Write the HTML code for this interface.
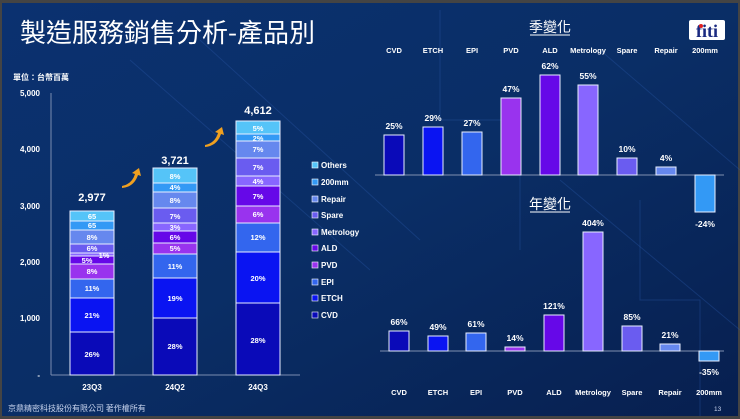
<!DOCTYPE html>
<html><head><meta charset="utf-8"><style>
body{margin:0;width:740px;height:419px;overflow:hidden;background:#3a3a3a}
svg{display:block;font-family:"Liberation Sans","Noto Sans CJK TC",sans-serif}
</style></head><body>
<svg width="740" height="419" viewBox="0 0 740 419">
<defs>
<linearGradient id="bg" x1="0" y1="0" x2="1" y2="1">
<stop offset="0" stop-color="#0b3170"/><stop offset="0.5" stop-color="#0a2e66"/><stop offset="1" stop-color="#071f4f"/>
</linearGradient>
</defs>
<rect x="0" y="0" width="740" height="419" fill="#444"/>
<rect x="2" y="3" width="736" height="413" fill="url(#bg)"/>
<g stroke="#2a5aa8" stroke-opacity="0.35" stroke-width="1" fill="none">
<line x1="130" y1="60" x2="370" y2="270"/><line x1="200" y1="40" x2="420" y2="240"/>
<line x1="560" y1="180" x2="740" y2="330"/><line x1="600" y1="50" x2="740" y2="170"/>
<path d="M440 10 V120 H520 V250"/><path d="M640 200 V300 H700 V416"/>
</g>
<text x="20" y="42" fill="#fff" font-size="26" font-family="'Noto Sans CJK TC',sans-serif">製造服務銷售分析-產品別</text>
<text x="13" y="80" fill="#fff" font-size="8" font-weight="bold" font-family="'Noto Sans CJK TC',sans-serif">單位：台幣百萬</text>
<g fill="#fff" font-size="8" font-weight="bold" text-anchor="end">
<text x="40" y="96">5,000</text><text x="40" y="152">4,000</text><text x="40" y="209">3,000</text><text x="40" y="265">2,000</text><text x="40" y="321">1,000</text><text x="40" y="378">-</text>
</g>
<line x1="51" y1="93" x2="51" y2="375" stroke="#7a8cb0"/>
<line x1="51" y1="375" x2="300" y2="375" stroke="#7a8cb0"/>
<g stroke="#e8eeff" stroke-width="1">
<!-- 23Q3 -->
<rect x="70" y="332" width="44" height="43" fill="#0a0ab8"/>
<rect x="70" y="298" width="44" height="34" fill="#0a14f2"/>
<rect x="70" y="279" width="44" height="19" fill="#3366ee"/>
<rect x="70" y="264" width="44" height="15" fill="#9933ee"/>
<rect x="70" y="256" width="44" height="8" fill="#6608e8"/>
<rect x="70" y="253" width="44" height="3" fill="#8866ff"/>
<rect x="70" y="244" width="44" height="9" fill="#6a5cf0"/>
<rect x="70" y="230" width="44" height="14" fill="#6688ee"/>
<rect x="70" y="221" width="44" height="9" fill="#3399f5"/>
<rect x="70" y="211" width="44" height="10" fill="#55c4f8"/>
<!-- 24Q2 -->
<rect x="153" y="318" width="44" height="57" fill="#0a0ab8"/>
<rect x="153" y="278" width="44" height="40" fill="#0a14f2"/>
<rect x="153" y="254" width="44" height="24" fill="#3366ee"/>
<rect x="153" y="243" width="44" height="11" fill="#9933ee"/>
<rect x="153" y="231" width="44" height="12" fill="#6608e8"/>
<rect x="153" y="223" width="44" height="8" fill="#8866ff"/>
<rect x="153" y="208" width="44" height="15" fill="#6a5cf0"/>
<rect x="153" y="192" width="44" height="16" fill="#6688ee"/>
<rect x="153" y="183" width="44" height="9" fill="#3399f5"/>
<rect x="153" y="168" width="44" height="15" fill="#55c4f8"/>
<!-- 24Q3 -->
<rect x="236" y="303" width="44" height="72" fill="#0a0ab8"/>
<rect x="236" y="252" width="44" height="51" fill="#0a14f2"/>
<rect x="236" y="223" width="44" height="29" fill="#3366ee"/>
<rect x="236" y="206" width="44" height="17" fill="#9933ee"/>
<rect x="236" y="186" width="44" height="20" fill="#6608e8"/>
<rect x="236" y="176" width="44" height="10" fill="#8866ff"/>
<rect x="236" y="158" width="44" height="18" fill="#6a5cf0"/>
<rect x="236" y="141" width="44" height="17" fill="#6688ee"/>
<rect x="236" y="134" width="44" height="7" fill="#3399f5"/>
<rect x="236" y="121" width="44" height="13" fill="#55c4f8"/>
</g>
<g fill="#fff" font-size="7.5" font-weight="bold" text-anchor="middle">
<text x="92" y="357">26%</text><text x="92" y="318">21%</text><text x="92" y="291">11%</text><text x="92" y="274">8%</text><text x="87" y="263">5%</text><text x="104" y="258">1%</text><text x="92" y="251">6%</text><text x="92" y="240">8%</text><text x="92" y="228">65</text><text x="92" y="219">65</text>
<text x="175" y="349">28%</text><text x="175" y="301">19%</text><text x="175" y="269">11%</text><text x="175" y="251">5%</text><text x="175" y="240">6%</text><text x="175" y="230">3%</text><text x="175" y="219">7%</text><text x="175" y="203">8%</text><text x="175" y="190">4%</text><text x="175" y="179">8%</text>
<text x="258" y="343">28%</text><text x="258" y="281">20%</text><text x="258" y="240">12%</text><text x="258" y="217">6%</text><text x="258" y="199">7%</text><text x="258" y="184">4%</text><text x="258" y="170">7%</text><text x="258" y="152">7%</text><text x="258" y="141">2%</text><text x="258" y="131">5%</text>
</g>
<g fill="#fff" font-size="11" font-weight="bold" text-anchor="middle">
<text x="92" y="201">2,977</text><text x="175" y="164">3,721</text><text x="258" y="114">4,612</text>
</g>
<g fill="#fff" font-size="8" font-weight="bold" text-anchor="middle">
<text x="92" y="390">23Q3</text><text x="175" y="390">24Q2</text><text x="258" y="390">24Q3</text>
</g>
<g fill="#f0a020"><path d="M122 186 q10 -2 13 -12 l-3 -1 l7 -5 l2 8 l-3 -1 q-4 12 -16 13z"/><path d="M205 145 q10 -2 13 -12 l-3 -1 l7 -5 l2 8 l-3 -1 q-4 12 -16 13z"/></g>
<g font-size="8" font-weight="bold" fill="#fff">
<rect x="312" y="162" width="6" height="6" fill="#55c4f8" stroke="#fff" stroke-width="0.6"/><text x="321" y="168">Others</text>
<rect x="312" y="179" width="6" height="6" fill="#3399f5" stroke="#fff" stroke-width="0.6"/><text x="321" y="185">200mm</text>
<rect x="312" y="196" width="6" height="6" fill="#6688ee" stroke="#fff" stroke-width="0.6"/><text x="321" y="202">Repair</text>
<rect x="312" y="212" width="6" height="6" fill="#6a5cf0" stroke="#fff" stroke-width="0.6"/><text x="321" y="218">Spare</text>
<rect x="312" y="229" width="6" height="6" fill="#8866ff" stroke="#fff" stroke-width="0.6"/><text x="321" y="235">Metrology</text>
<rect x="312" y="245" width="6" height="6" fill="#6608e8" stroke="#fff" stroke-width="0.6"/><text x="321" y="251">ALD</text>
<rect x="312" y="262" width="6" height="6" fill="#9933ee" stroke="#fff" stroke-width="0.6"/><text x="321" y="268">PVD</text>
<rect x="312" y="279" width="6" height="6" fill="#3366ee" stroke="#fff" stroke-width="0.6"/><text x="321" y="285">EPI</text>
<rect x="312" y="295" width="6" height="6" fill="#0a14f2" stroke="#fff" stroke-width="0.6"/><text x="321" y="301">ETCH</text>
<rect x="312" y="312" width="6" height="6" fill="#0a0ab8" stroke="#fff" stroke-width="0.6"/><text x="321" y="318">CVD</text>
</g>
<!-- right titles -->
<g fill="#fff" font-size="14" text-anchor="middle" font-family="'Noto Sans CJK TC',sans-serif">
<text x="550" y="32">季變化</text><text x="550" y="209">年變化</text>
</g>
<line x1="530" y1="35" x2="570" y2="35" stroke="#fff"/><line x1="530" y1="212" x2="570" y2="212" stroke="#fff"/>
<!-- logo -->
<rect x="689" y="20" width="36" height="20" rx="2" fill="#fff"/>
<text x="707" y="37" text-anchor="middle" font-size="18" font-weight="bold" fill="#1a2a80" font-family="'Liberation Serif',serif">fiti</text>
<circle x="0" cx="701" cy="26" r="2" fill="#e02020"/>
<!-- top chart -->
<g fill="#fff" font-size="7.5" font-weight="bold" text-anchor="middle">
<text x="394" y="53">CVD</text><text x="433" y="53">ETCH</text><text x="472" y="53">EPI</text><text x="511" y="53">PVD</text><text x="550" y="53">ALD</text><text x="588" y="53">Metrology</text><text x="627" y="53">Spare</text><text x="666" y="53">Repair</text><text x="705" y="53">200mm</text>
</g>
<line x1="375" y1="175" x2="724" y2="175" stroke="#8090b0"/>
<g stroke="#e8eeff" stroke-width="1">
<rect x="384" y="135" width="20" height="40" fill="#0a0ab8"/>
<rect x="423" y="127" width="20" height="48" fill="#0a14f2"/>
<rect x="462" y="132" width="20" height="43" fill="#3366ee"/>
<rect x="501" y="98" width="20" height="77" fill="#9933ee"/>
<rect x="540" y="75" width="20" height="100" fill="#6608e8"/>
<rect x="578" y="85" width="20" height="90" fill="#8866ff"/>
<rect x="617" y="158" width="20" height="17" fill="#6a5cf0"/>
<rect x="656" y="167" width="20" height="8" fill="#6688ee"/>
<rect x="695" y="175" width="20" height="37" fill="#3399f5"/>
</g>
<g fill="#fff" font-size="8.5" font-weight="bold" text-anchor="middle">
<text x="394" y="129">25%</text><text x="433" y="121">29%</text><text x="472" y="126">27%</text><text x="511" y="92">47%</text><text x="550" y="69">62%</text><text x="588" y="79">55%</text><text x="627" y="152">10%</text><text x="666" y="161">4%</text><text x="705" y="227">-24%</text>
</g>
<!-- bottom chart -->
<line x1="380" y1="351" x2="724" y2="351" stroke="#8090b0"/>
<g stroke="#e8eeff" stroke-width="1">
<rect x="389" y="331" width="20" height="20" fill="#0a0ab8"/>
<rect x="428" y="336" width="20" height="15" fill="#0a14f2"/>
<rect x="466" y="333" width="20" height="18" fill="#3366ee"/>
<rect x="505" y="347" width="20" height="4" fill="#9933ee"/>
<rect x="544" y="315" width="20" height="36" fill="#6608e8"/>
<rect x="583" y="232" width="20" height="119" fill="#8866ff"/>
<rect x="622" y="326" width="20" height="25" fill="#6a5cf0"/>
<rect x="660" y="344" width="20" height="7" fill="#6688ee"/>
<rect x="699" y="351" width="20" height="10" fill="#3399f5"/>
</g>
<g fill="#fff" font-size="8.5" font-weight="bold" text-anchor="middle">
<text x="399" y="325">66%</text><text x="438" y="330">49%</text><text x="476" y="327">61%</text><text x="515" y="341">14%</text><text x="554" y="309">121%</text><text x="593" y="226">404%</text><text x="632" y="320">85%</text><text x="670" y="338">21%</text><text x="709" y="375">-35%</text>
</g>
<g fill="#fff" font-size="7.5" font-weight="bold" text-anchor="middle">
<text x="399" y="395">CVD</text><text x="438" y="395">ETCH</text><text x="476" y="395">EPI</text><text x="515" y="395">PVD</text><text x="554" y="395">ALD</text><text x="593" y="395">Metrology</text><text x="632" y="395">Spare</text><text x="670" y="395">Repair</text><text x="709" y="395">200mm</text>
</g>
<text x="8" y="411" fill="#c8d4ee" font-size="8" font-family="'Noto Sans CJK TC',sans-serif">京鼎精密科技股份有限公司 著作權所有</text>
<text x="714" y="411" fill="#c8d4ee" font-size="6.5">13</text>
</svg>
</body></html>
